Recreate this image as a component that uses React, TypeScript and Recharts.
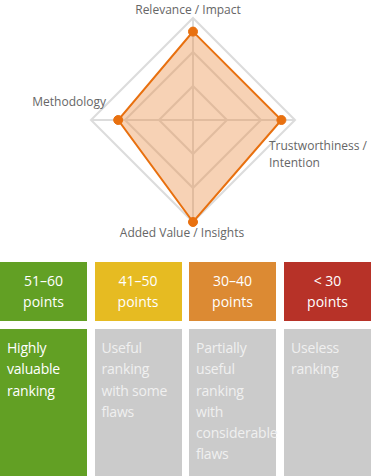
import { RadarChart, Radar, PolarGrid, PolarAngleAxis, PolarRadiusAxis } from "recharts"

const criteria = ["Relevance / Impact", "Trustworthiness / Intention", "Added Value / Insights", "Methodology"]
const scores = [13, 13, 15, 11]
const maxScore = 15

const bandRanges = ["51–60", "41–50", "30–40", "< 30"]
const bandColors = ["#62a024", "#e6bb22", "#dc8a33", "#b73228"]
const bandVerdicts = ["Highly valuable ranking", "Useful ranking with some flaws", "Partially useful ranking with considerable flaws", "Useless ranking"]
const activeBand = 0

const data = criteria.map((c, i) => ({ criterion: c, score: scores[i] }))

const FONT = "'Open Sans', 'Noto Sans', sans-serif"

// label placement around the diamond (relative to recharts' tick point)
const tickPlacement = [
  { anchor: "middle", dx: -5, dy: -1, lines: ["Relevance / Impact"] },
  { anchor: "start", dx: -34, dy: 25, lines: ["Trustworthiness /", "Intention"] },
  { anchor: "middle", dx: -11, dy: 2, lines: ["Added Value / Insights"] },
  { anchor: "end", dx: 23, dy: -19, lines: ["Methodology"] },
]

function AngleTick(props: any) {
  const { x, y, index } = props
  const p = tickPlacement[index]
  return (
    <text
      x={x + p.dx}
      y={y + p.dy}
      textAnchor={p.anchor}
      dominantBaseline="central"
      fontSize={12}
      fontFamily={FONT}
      fill="#666"
    >
      {p.lines.map((l, i) => (
        <tspan key={i} x={x + p.dx} dy={i === 0 ? 0 : 16.5}>
          {l}
        </tspan>
      ))}
    </text>
  )
}

export default function App() {
  const colLeft = [0, 94.5, 189, 284]
  const colWidth = 87
  return (
    <div style={{ position: "absolute", left: 0, top: 0, width: 372, height: 476, background: "#fff", fontFamily: FONT }}>
      <RadarChart width={372} height={250} cx={193} cy={120} outerRadius={102} data={data} margin={{ top: 0, right: 0, bottom: 0, left: 0 }}>
        <PolarGrid stroke="#dcdcdc" strokeWidth={2} />
        <PolarAngleAxis dataKey="criterion" tick={<AngleTick />} tickLine={false} axisLine={false} />
        <PolarRadiusAxis domain={[0, maxScore]} tickCount={4} tick={false} axisLine={false} />
        <Radar
          dataKey="score"
          stroke="#e8700f"
          strokeWidth={2}
          fill="#eb8a3c"
          fillOpacity={0.38}
          dot={{ r: 4.5, fill: "#e8700f", stroke: "#e8700f", strokeWidth: 1, fillOpacity: 1 }}
          isAnimationActive={false}
        />
      </RadarChart>

      {bandRanges.map((r, i) => (
        <div
          key={"top" + i}
          style={{
            position: "absolute",
            left: colLeft[i],
            top: 262,
            width: colWidth,
            height: 59,
            background: bandColors[i],
            color: "#fff",
            fontSize: 14,
            lineHeight: "21.5px",
            textAlign: "center",
            paddingTop: 7.5,
            boxSizing: "border-box",
          }}
        >
          {r}
          <br />
          points
        </div>
      ))}

      {bandVerdicts.map((v, i) => (
        <div
          key={"bot" + i}
          style={{
            position: "absolute",
            left: colLeft[i],
            top: 329,
            width: colWidth,
            height: 147,
            background: i === activeBand ? bandColors[i] : "#cbcbcb",
            color: i === activeBand ? "#fff" : "#f0f0f0",
            fontSize: 14,
            lineHeight: "21.3px",
            letterSpacing: -0.2,
            padding: "8px 2px 0 7px",
            boxSizing: "border-box",
          }}
        >
          {v}
        </div>
      ))}
    </div>
  )
}
